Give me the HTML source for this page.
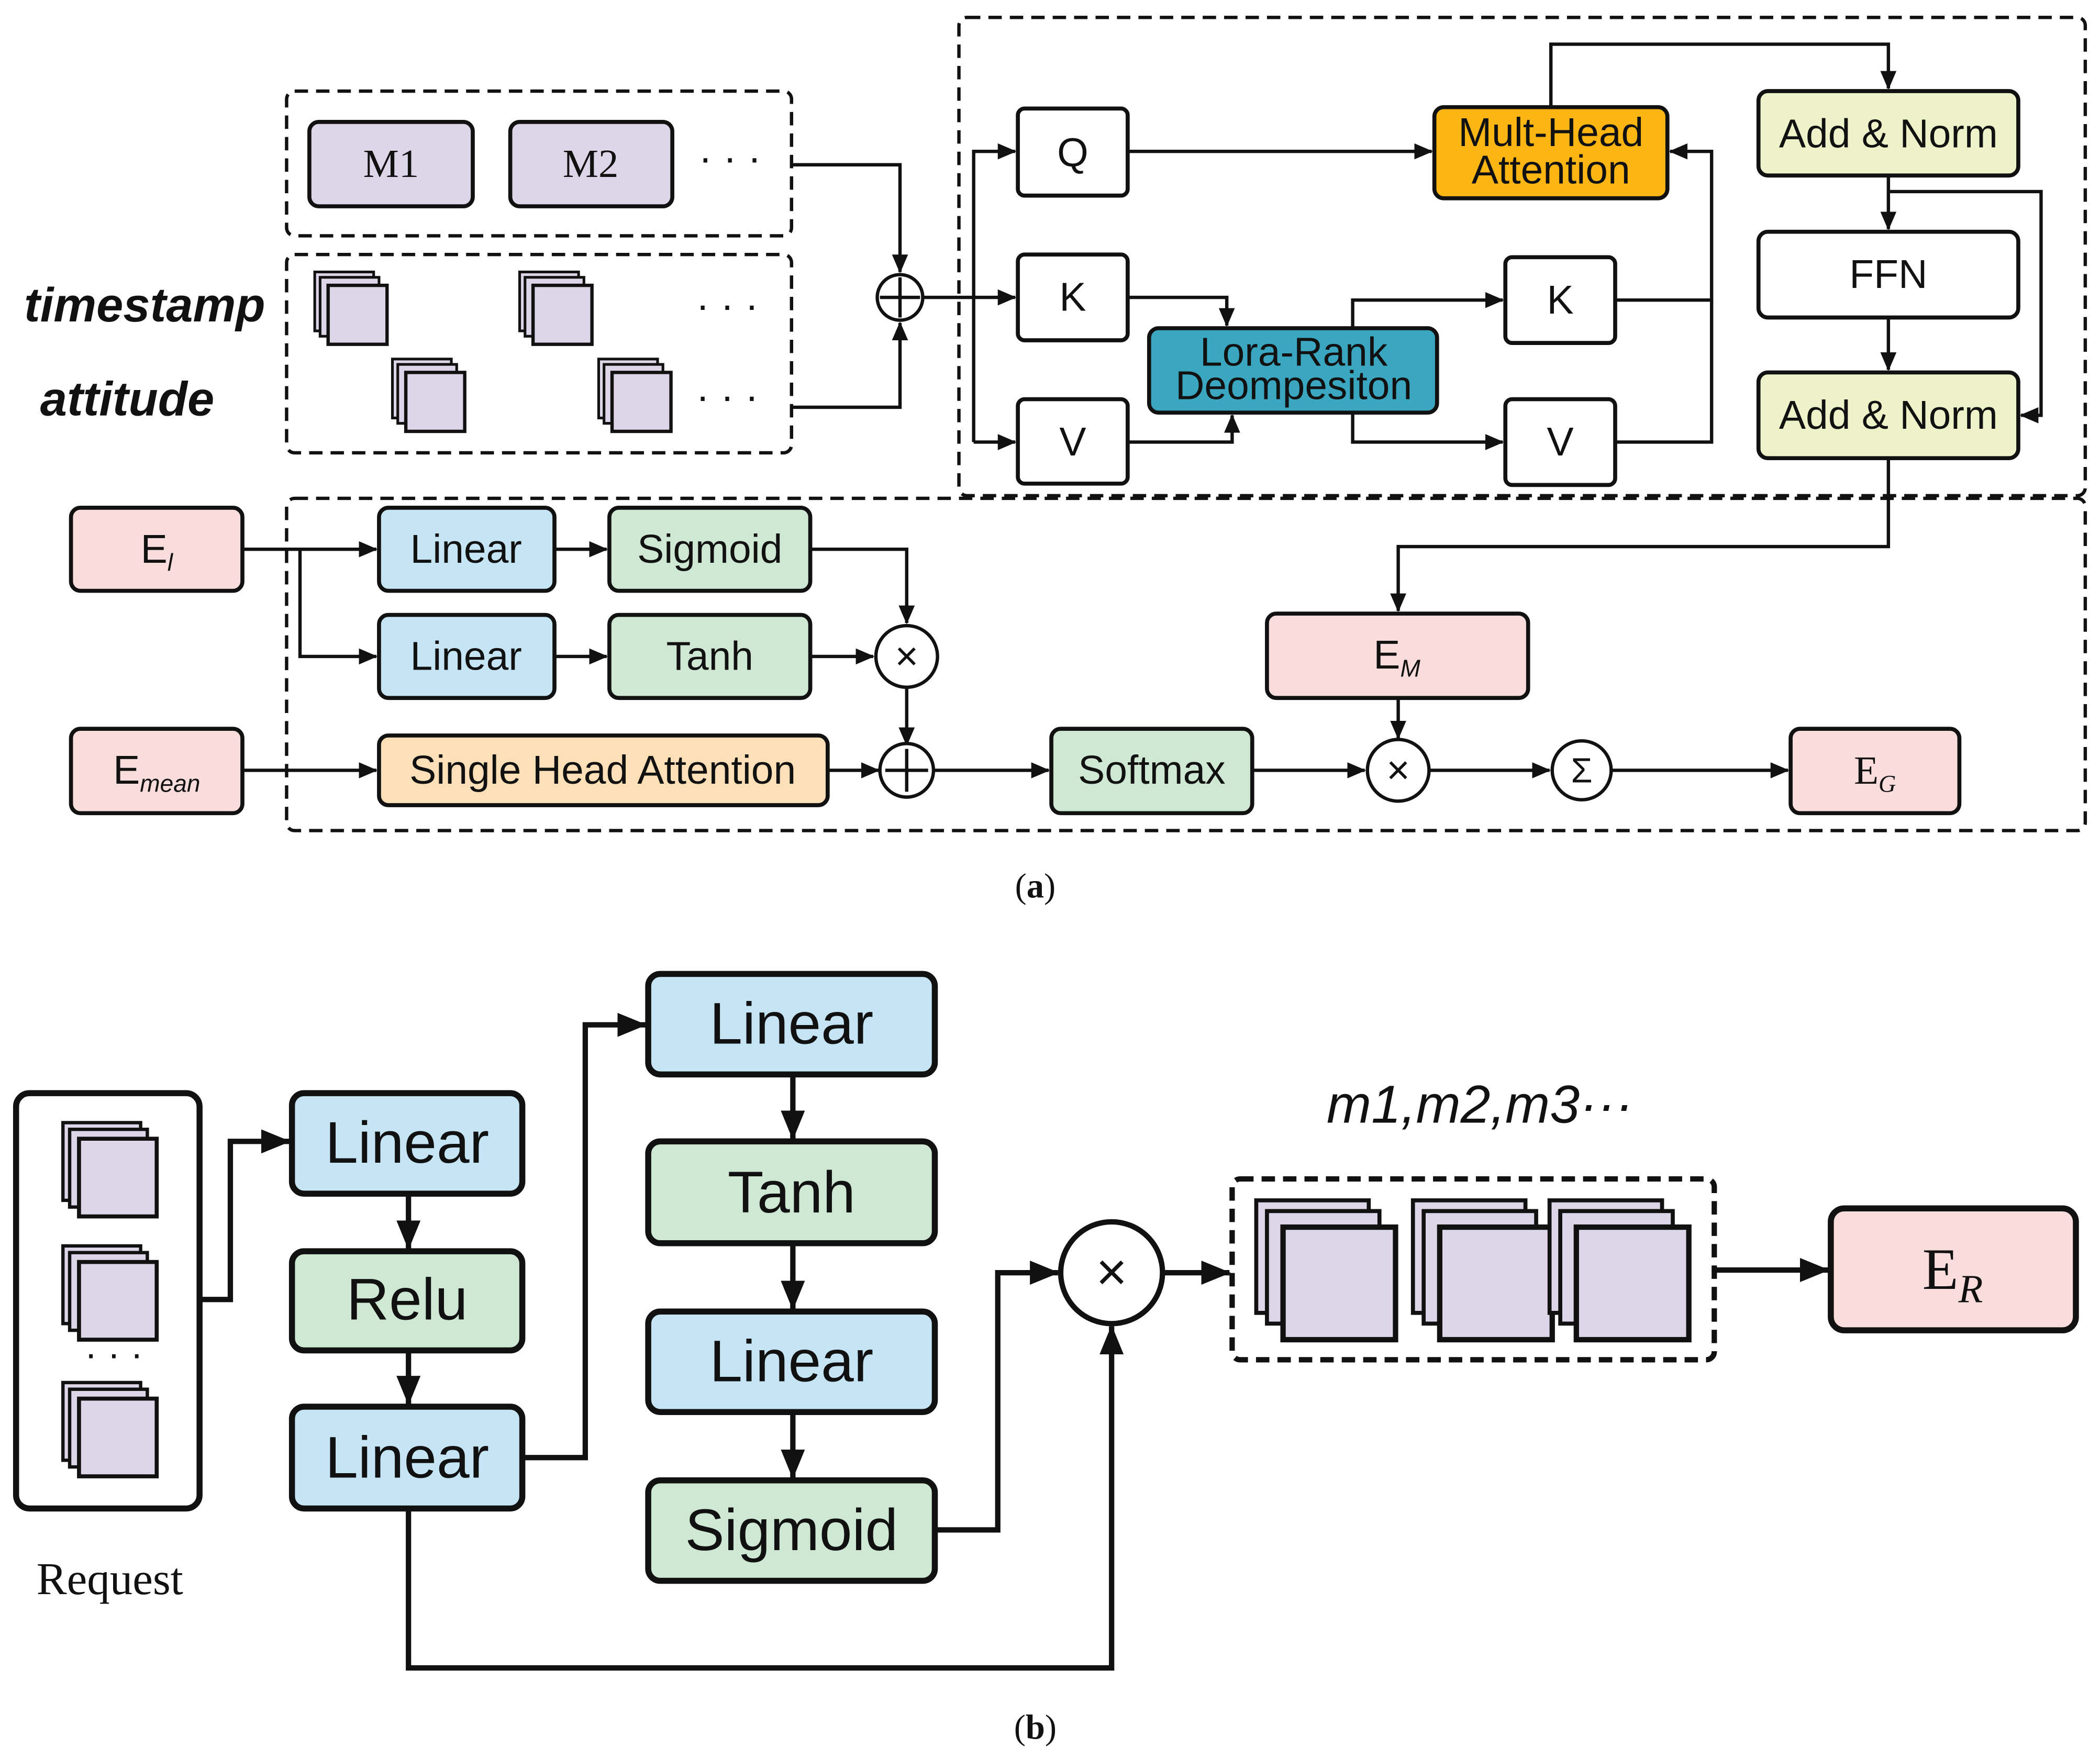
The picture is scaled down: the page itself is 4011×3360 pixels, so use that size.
<!DOCTYPE html>
<html><head><meta charset="utf-8"><style>
html,body{margin:0;padding:0;background:#fff}
svg{display:block}
</style></head><body>
<svg width="4011" height="3360" viewBox="0 0 1568 1313" preserveAspectRatio="none" xmlns="http://www.w3.org/2000/svg" font-family="Liberation Sans, sans-serif">
<defs>
<marker id="a" markerUnits="userSpaceOnUse" markerWidth="14" markerHeight="12" refX="13" refY="6" orient="auto"><path d="M0,0 L14,6 L0,12 Z" fill="#111"/></marker>
<marker id="b" markerUnits="userSpaceOnUse" markerWidth="22" markerHeight="18" refX="21" refY="9" orient="auto"><path d="M0,0 L22,9 L0,18 Z" fill="#111"/></marker>
<g id="st"><rect x="0" y="0" width="44" height="44" fill="#ddd5e8" stroke="#111" stroke-width="2"/><rect x="4" y="4" width="44" height="44" fill="#ddd5e8" stroke="#111" stroke-width="2"/><rect x="10" y="10" width="44" height="44" fill="#ddd5e8" stroke="#111" stroke-width="2.5"/></g>
<g id="sb"><rect x="0" y="0" width="58" height="58" fill="#ddd5e8" stroke="#111" stroke-width="2.5"/><rect x="5" y="5" width="58" height="58" fill="#ddd5e8" stroke="#111" stroke-width="2.5"/><rect x="12" y="12" width="58" height="58" fill="#ddd5e8" stroke="#111" stroke-width="3"/></g>
<g id="sc"><rect x="0" y="0" width="84" height="84" fill="#ddd5e8" stroke="#111" stroke-width="3"/><rect x="8" y="8" width="84" height="84" fill="#ddd5e8" stroke="#111" stroke-width="3"/><rect x="20" y="20" width="84" height="84" fill="#ddd5e8" stroke="#111" stroke-width="4"/></g>
</defs>
<g fill="none" stroke="#111" stroke-width="2.5" stroke-dasharray="10,6">
<rect x="214" y="68" width="377" height="108" rx="6"/>
<rect x="214" y="190" width="377" height="148" rx="6"/>
<rect x="716" y="13" width="841" height="357" rx="6"/>
<rect x="214" y="372" width="1343" height="248" rx="6"/>
<rect x="920" y="880" width="360" height="135" rx="6" stroke-width="4"/>
</g>
<g stroke="#111" stroke-width="3">
<rect x="231" y="91" width="122" height="63" rx="7" fill="#ddd5e8"/>
<rect x="381" y="91" width="121" height="63" rx="7" fill="#ddd5e8"/>
<rect x="760" y="81" width="82" height="65" rx="5" fill="#fff"/>
<rect x="760" y="190" width="82" height="64" rx="5" fill="#fff"/>
<rect x="760" y="298" width="82" height="63" rx="5" fill="#fff"/>
<rect x="1071" y="80" width="174" height="68" rx="7" fill="#fbb614"/>
<rect x="858" y="245" width="215" height="63" rx="7" fill="#3ba6c0"/>
<rect x="1124" y="192" width="82" height="64" rx="5" fill="#fff"/>
<rect x="1124" y="298" width="82" height="64" rx="5" fill="#fff"/>
<rect x="1313" y="68" width="194" height="63" rx="7" fill="#eef2c8"/>
<rect x="1313" y="173" width="194" height="64" rx="7" fill="#fff"/>
<rect x="1313" y="278" width="194" height="64" rx="7" fill="#eef2c8"/>
<rect x="53" y="379" width="128" height="62" rx="7" fill="#f9dcdc"/>
<rect x="53" y="544" width="128" height="63" rx="7" fill="#f9dcdc"/>
<rect x="283" y="379" width="131" height="62" rx="7" fill="#c5e5f5"/>
<rect x="455" y="379" width="150" height="62" rx="7" fill="#cfe8d3"/>
<rect x="283" y="459" width="131" height="62" rx="7" fill="#c5e5f5"/>
<rect x="455" y="459" width="150" height="62" rx="7" fill="#cfe8d3"/>
<rect x="283" y="549" width="335" height="52" rx="7" fill="#fde0b8"/>
<rect x="785" y="544" width="150" height="63" rx="7" fill="#cfe8d3"/>
<rect x="946" y="458" width="195" height="63" rx="7" fill="#f9dcdc"/>
<rect x="1337" y="544" width="126" height="63" rx="7" fill="#f9dcdc"/>
</g>
<g stroke="#111" stroke-width="4.5">
<rect x="12" y="816" width="137" height="310" rx="10" fill="#fff"/>
<rect x="218" y="816" width="172" height="75" rx="9" fill="#c5e5f5"/>
<rect x="218" y="934" width="172" height="74" rx="9" fill="#cfe8d3"/>
<rect x="218" y="1050" width="172" height="76" rx="9" fill="#c5e5f5"/>
<rect x="484" y="727" width="214" height="75" rx="9" fill="#c5e5f5"/>
<rect x="484" y="852" width="214" height="76" rx="9" fill="#cfe8d3"/>
<rect x="484" y="979" width="214" height="75" rx="9" fill="#c5e5f5"/>
<rect x="484" y="1105" width="214" height="75" rx="9" fill="#cfe8d3"/>
<rect x="1367" y="902" width="183" height="91" rx="10" fill="#f9dcdc"/>
</g>
<use href="#st" x="235" y="203"/><use href="#st" x="388" y="203"/>
<use href="#st" x="293" y="268"/><use href="#st" x="447" y="268"/>
<use href="#sb" x="47" y="838"/><use href="#sb" x="47" y="930"/><use href="#sb" x="47" y="1032"/>
<use href="#sc" x="938" y="896"/><use href="#sc" x="1055" y="896"/><use href="#sc" x="1157" y="896"/>
<g fill="none" stroke="#111" stroke-width="2.5">
<path d="M591,123 H672 V203" marker-end="url(#a)"/>
<path d="M591,304 H672 V241" marker-end="url(#a)"/>
<path d="M689,222 H758" marker-end="url(#a)"/>
<path d="M727,330 V113 H758" marker-end="url(#a)"/>
<path d="M727,330 H758" marker-end="url(#a)"/>
<path d="M842,113 H1069" marker-end="url(#a)"/>
<path d="M842,222 H916 V243" marker-end="url(#a)"/>
<path d="M842,330 H920 V310" marker-end="url(#a)"/>
<path d="M1010,245 V224 H1122" marker-end="url(#a)"/>
<path d="M1010,308 V330 H1122" marker-end="url(#a)"/>
<path d="M1206,224 H1278 V113 H1247" marker-end="url(#a)"/>
<path d="M1206,330 H1278 V224"/>
<path d="M1158,80 V33 H1410 V66" marker-end="url(#a)"/>
<path d="M1410,131 V171" marker-end="url(#a)"/>
<path d="M1410,143 H1524 V310 H1509" marker-end="url(#a)"/>
<path d="M1410,237 V276" marker-end="url(#a)"/>
<path d="M1410,342 V408 H1044 V456" marker-end="url(#a)"/>
<path d="M181,410 H281" marker-end="url(#a)"/>
<path d="M224,410 V490 H281" marker-end="url(#a)"/>
<path d="M414,410 H453" marker-end="url(#a)"/>
<path d="M414,490 H453" marker-end="url(#a)"/>
<path d="M605,410 H677 V465" marker-end="url(#a)"/>
<path d="M605,490 H652" marker-end="url(#a)"/>
<path d="M677,513 V556" marker-end="url(#a)"/>
<path d="M181,575 H281" marker-end="url(#a)"/>
<path d="M618,575 H656" marker-end="url(#a)"/>
<path d="M696,575 H783" marker-end="url(#a)"/>
<path d="M935,575 H1019" marker-end="url(#a)"/>
<path d="M1044,521 V551" marker-end="url(#a)"/>
<path d="M1067,575 H1157" marker-end="url(#a)"/>
<path d="M1204,575 H1335" marker-end="url(#a)"/>
<circle cx="672" cy="222" r="17" fill="#fff"/>
<circle cx="677" cy="490" r="23" fill="#fff"/>
<circle cx="677" cy="575" r="20" fill="#fff"/>
<circle cx="1044" cy="575" r="23" fill="#fff"/>
<circle cx="1181" cy="575" r="22" fill="#fff"/>
<path d="M672,207 V237 M657,222 H687"/>
<path d="M677,559 V591 M661,575 H693"/>
</g>
<g fill="none" stroke="#111" stroke-width="4">
<path d="M149,970 H172 V852 H216" marker-end="url(#b)"/>
<path d="M305,891 V932" marker-end="url(#b)"/>
<path d="M305,1008 V1048" marker-end="url(#b)"/>
<path d="M390,1088 H437 V765 H482" marker-end="url(#b)"/>
<path d="M592,802 V850" marker-end="url(#b)"/>
<path d="M592,928 V977" marker-end="url(#b)"/>
<path d="M592,1054 V1103" marker-end="url(#b)"/>
<path d="M698,1142 H745 V950 H790" marker-end="url(#b)"/>
<path d="M305,1126 V1245 H830 V990" marker-end="url(#b)"/>
<path d="M868,950 H918" marker-end="url(#b)"/>
<path d="M1280,948 H1365" marker-end="url(#b)"/>
<circle cx="830" cy="950" r="38" fill="#fff"/>
</g>
<g font-size="30" text-anchor="middle" fill="#111">
<text x="292" y="132" font-family="Liberation Serif, serif">M1</text>
<text x="441" y="132" font-family="Liberation Serif, serif">M2</text>
<text x="545" y="128">· · ·</text>
<text x="543" y="238">· · ·</text>
<text x="543" y="306">· · ·</text>
<text x="801" y="124">Q</text>
<text x="801" y="232">K</text>
<text x="801" y="340">V</text>
<text x="1158" y="109">Mult-Head</text>
<text x="1158" y="137">Attention</text>
<text x="966" y="273">Lora-Rank</text>
<text x="966" y="298">Deompesiton</text>
<text x="1165" y="234">K</text>
<text x="1165" y="340">V</text>
<text x="1410" y="110">Add &amp; Norm</text>
<text x="1410" y="215">FFN</text>
<text x="1410" y="320">Add &amp; Norm</text>
<text x="117" y="420">E<tspan font-size="18" dy="6" font-style="italic">l</tspan></text>
<text x="117" y="585">E<tspan font-size="18" dy="6" font-style="italic">mean</tspan></text>
<text x="348" y="420">Linear</text>
<text x="530" y="420">Sigmoid</text>
<text x="348" y="500">Linear</text>
<text x="530" y="500">Tanh</text>
<text x="450" y="585">Single Head Attention</text>
<text x="860" y="585">Softmax</text>
<text x="1043" y="499">E<tspan font-size="18" dy="6" font-style="italic">M</tspan></text>
<text x="1400" y="585" font-family="Liberation Serif, serif">E<tspan font-size="18" dy="6" font-style="italic">G</tspan></text>
<text x="677" y="500" font-size="30">×</text>
<text x="1044" y="585" font-size="30">×</text>
<text x="1181" y="584" font-size="26">Σ</text>
<text x="773" y="670" font-family="Liberation Serif, serif" font-size="26">(<tspan font-weight="bold">a</tspan>)</text>
<text x="773" y="1298" font-family="Liberation Serif, serif" font-size="26">(<tspan font-weight="bold">b</tspan>)</text>
<text x="82" y="1190" font-family="Liberation Serif, serif" font-size="34">Request</text>
<text x="85" y="1020" font-size="28">· · ·</text>
<text x="304" y="868" font-size="44">Linear</text>
<text x="304" y="985" font-size="44">Relu</text>
<text x="304" y="1103" font-size="44">Linear</text>
<text x="591" y="779" font-size="44">Linear</text>
<text x="591" y="905" font-size="44">Tanh</text>
<text x="591" y="1031" font-size="44">Linear</text>
<text x="591" y="1157" font-size="44">Sigmoid</text>
<text x="830" y="963" font-size="40">×</text>
<text x="1105" y="838" font-size="40" font-style="italic">m1,m2,m3···</text>
<text x="1458" y="962" font-family="Liberation Serif, serif" font-size="44">E<tspan font-size="30" dy="10" font-style="italic">R</tspan></text>
</g>
<g font-size="36" font-weight="bold" font-style="italic" fill="#111">
<text x="18" y="240">timestamp</text>
<text x="30" y="310">attitude</text>
</g>
</svg>
</body></html>
